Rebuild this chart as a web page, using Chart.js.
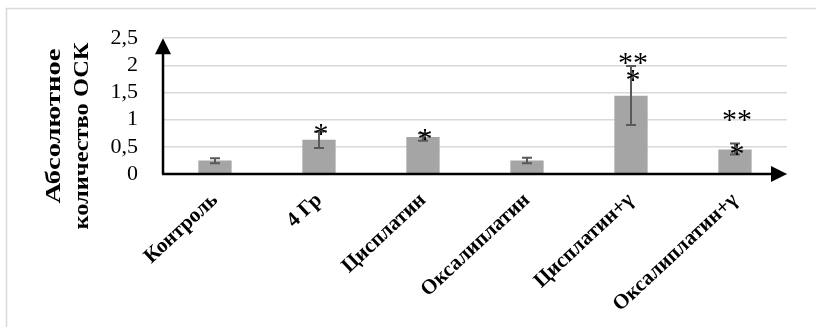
<!DOCTYPE html>
<html>
<head>
<meta charset="utf-8">
<script src="https://cdn.jsdelivr.net/npm/chart.js@4.4.0/dist/chart.umd.min.js"></script>
<style>
  body { margin: 0; background: #fff; }
  #wrap { width: 816px; height: 327px; }
</style>
</head>
<body>
<div id="wrap"><canvas id="chart" width="816" height="327"></canvas></div>
<script>
// data
const categories = ["Контроль", "4 Гр", "Цисплатин", "Оксалиплатин", "Цисплатин+γ", "Оксалиплатин+γ"];
const values = [0.25, 0.63, 0.68, 0.25, 1.44, 0.45];
const errLow = [0.20, 0.48, 0.61, 0.20, 0.90, 0.36];
const errHigh = [0.29, 0.78, 0.75, 0.30, 1.99, 0.56];
const yTicks = ["0", "0,5", "1", "1,5", "2", "2,5"];
// significance marks: text + level (in axis units) per category
const marks = [
  { cat: 1, text: "*", level: 0.82 },
  { cat: 2, text: "*", level: 0.74 },
  { cat: 4, text: "**", level: 2.13 },
  { cat: 4, text: "*", level: 1.82 },
  { cat: 5, text: "**", level: 1.08 },
  { cat: 5, text: "*", level: 0.46 },
];
const yTitle = ["Абсолютное", "количество ОСК"];

const serif = "'Liberation Serif', 'Times New Roman', serif";

// draw a rotated title line stretched to a given length
function drawTitleLine(ctx, text, cx, cy, len) {
  ctx.save();
  ctx.fillStyle = "#000";
  ctx.font = "bold 22px " + serif;
  ctx.textAlign = "center";
  ctx.textBaseline = "middle";
  const w = ctx.measureText(text).width;
  ctx.translate(cx, cy);
  ctx.rotate(-Math.PI / 2);
  ctx.scale(len / w, 1);
  ctx.fillText(text, 0, 0);
  ctx.restore();
}

const decor = {
  id: "decor",
  beforeDraw(chart) {
    const ctx = chart.ctx;
    ctx.save();
    ctx.fillStyle = "#fff";
    ctx.fillRect(0, 0, chart.width, chart.height);
    ctx.strokeStyle = "#d9d9d9";
    ctx.lineWidth = 1.5;
    ctx.strokeRect(6.5, 8.5, chart.width + 20, chart.height + 20);
    ctx.restore();
  },
  afterDatasetsDraw(chart) {
    const ctx = chart.ctx;
    const y = chart.scales.y;
    const area = chart.chartArea;
    const bars = chart.getDatasetMeta(0).data;

    // error bars
    ctx.save();
    ctx.strokeStyle = "#595959";
    ctx.lineWidth = 2;
    bars.forEach((bar, i) => {
      const top = y.getPixelForValue(errHigh[i]);
      const bot = y.getPixelForValue(errLow[i]);
      ctx.beginPath();
      ctx.moveTo(bar.x, top); ctx.lineTo(bar.x, bot);
      ctx.moveTo(bar.x - 5, top); ctx.lineTo(bar.x + 5, top);
      ctx.moveTo(bar.x - 5, bot); ctx.lineTo(bar.x + 5, bot);
      ctx.stroke();
    });
    ctx.restore();

    // axes with arrows
    ctx.save();
    ctx.strokeStyle = "#000";
    ctx.fillStyle = "#000";
    ctx.lineWidth = 2.5;
    ctx.beginPath();
    ctx.moveTo(area.left, area.bottom);
    ctx.lineTo(area.left, area.top + 10);
    ctx.moveTo(area.left - 1, area.bottom);
    ctx.lineTo(area.right - 10, area.bottom);
    ctx.stroke();
    ctx.beginPath();
    ctx.moveTo(area.left, area.top);
    ctx.lineTo(area.left - 8, area.top + 16);
    ctx.lineTo(area.left + 8, area.top + 16);
    ctx.closePath();
    ctx.fill();
    ctx.beginPath();
    ctx.moveTo(area.right, area.bottom);
    ctx.lineTo(area.right - 16, area.bottom - 8);
    ctx.lineTo(area.right - 16, area.bottom + 8);
    ctx.closePath();
    ctx.fill();
    ctx.restore();

    // stars
    ctx.save();
    ctx.fillStyle = "#000";
    ctx.font = "30px " + serif;
    ctx.textAlign = "center";
    ctx.textBaseline = "alphabetic";
    marks.forEach(m => {
      const x = bars[m.cat].x + 2;
      ctx.fillText(m.text, x, y.getPixelForValue(m.level) + 14);
    });
    ctx.restore();

    // y axis title
    drawTitleLine(ctx, yTitle[0], 54, 126, 155);
    drawTitleLine(ctx, yTitle[1], 82, 136, 187);
  }
};

new Chart(document.getElementById("chart"), {
  type: "bar",
  data: {
    labels: categories,
    datasets: [{
      data: values,
      backgroundColor: "#a5a5a5",
      categoryPercentage: 1,
      barPercentage: 0.32,
    }]
  },
  options: {
    responsive: false,
    animation: false,
    layout: { padding: { top: 31, right: 29, left: 0, bottom: 0 } },
    plugins: { legend: { display: false }, tooltip: { enabled: false } },
    scales: {
      x: {
        grid: { display: false },
        border: { display: false },
        ticks: {
          color: "#000",
          font: { family: serif, size: 21, weight: "bold" },
          minRotation: 43,
          maxRotation: 43,
          autoSkip: false,
          padding: 6,
        },
        afterFit(scale) { scale.height = 153; },
      },
      y: {
        min: 0,
        max: 2.5,
        grid: { color: "#d9d9d9", lineWidth: 1.5, drawTicks: false },
        border: { display: false },
        ticks: {
          stepSize: 0.5,
          autoSkip: false,
          color: "#000",
          font: { family: serif, size: 22 },
          padding: 25,
          callback: (v, i) => yTicks[i],
        },
        afterFit(scale) { scale.width = 163; },
      }
    }
  },
  plugins: [decor]
});
</script>
</body>
</html>
